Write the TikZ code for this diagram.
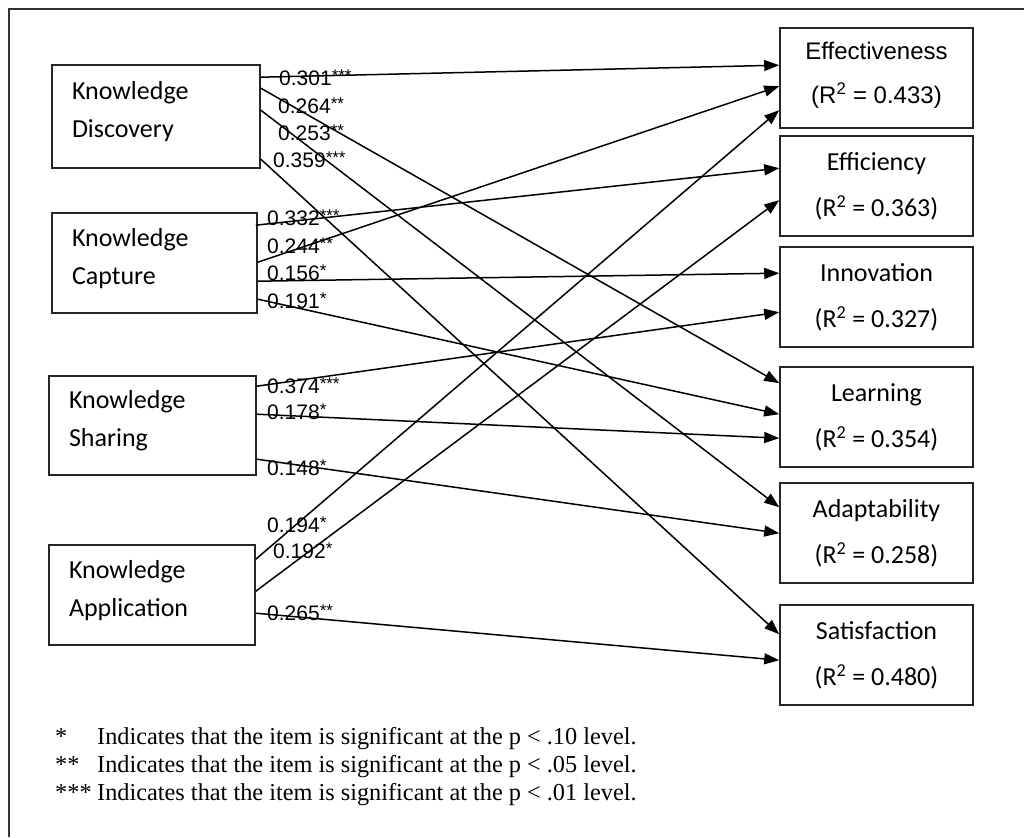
\documentclass[tikz,border=0pt]{standalone}
\usepackage{fontspec}
\setmainfont{Liberation Serif}
\newfontfamily\arialf{Liberation Sans}
\newfontfamily\calibf{Carlito}
\usetikzlibrary{arrows.meta,calc}
\newcommand\sigstars[1]{\smash{\raisebox{4pt}{\fontsize{17}{17}\selectfont #1}}}
\begin{document}
\begin{tikzpicture}[x=1pt,y=-1pt,
  box/.style={draw=black!85, line width=1.6pt, inner sep=0pt},
  lbox/.style={box, align=left, inner xsep=20pt, text depth=52pt, font=\calibf\fontsize{26}{38}\selectfont},
  rbox/.style={box, minimum width=193pt, minimum height=100pt, align=center, font=\calibf\fontsize{26}{46}\selectfont},
  conn/.style={line width=1.5pt, -{Triangle[length=15pt,width=11pt]}},
  coef/.style={anchor=west, inner sep=0pt, font=\arialf\fontsize{21}{21}\selectfont},
  note/.style={anchor=base west, inner sep=0pt, font=\fontsize{24.3}{24.3}\selectfont},
  frame/.style={line width=2pt, black!80}
]
\useasboundingbox (0,0) rectangle (1024,837);
\draw[frame] (9,837) -- (9,9) -- (1030,9);

% left boxes
\node[lbox, text width=168pt, minimum height=103pt] (kd) at (156,116.5) {Knowledge\\Discovery};
\node[lbox, text width=165pt, minimum height=100pt] (kc) at (154.5,263) {Knowledge\\Capture};
\node[lbox, text width=167pt, minimum height=99pt] (ks) at (152.5,425.5) {Knowledge\\Sharing};
\node[lbox, text width=166pt, minimum height=100pt] (ka) at (152,595) {Knowledge\\Application};

% right boxes
\node[rbox, text depth=11pt, font=\arialf\fontsize{24}{44}\selectfont] (eff) at (876.5,78) {Effectiveness\\(R\textsuperscript{2} = 0.433)};
\node[rbox] (efc) at (876.5,186) {Efficiency\\(R\textsuperscript{2} = 0.363)};
\node[rbox] (inn) at (876.5,297) {Innovation\\(R\textsuperscript{2} = 0.327)};
\node[rbox] (lrn) at (876.5,417) {Learning\\(R\textsuperscript{2} = 0.354)};
\node[rbox] (adp) at (876.5,533) {Adaptability\\(R\textsuperscript{2} = 0.258)};
\node[rbox] (sat) at (876.5,655) {Satisfaction\\(R\textsuperscript{2} = 0.480)};

% connectors
\draw[conn] ($(kd.north east)+(0,13)$) -- ($(eff.north west)+(0,38)$);
\draw[conn] ($(kd.north east)+(0,24)$) -- ($(lrn.north west)+(0,17)$);
\draw[conn] ($(kd.north east)+(0,46)$) -- ($(adp.north west)+(0,25)$);
\draw[conn] ($(kd.north east)+(0,95)$) -- ($(sat.north west)+(0,30)$);

\draw[conn] ($(kc.north east)+(-2,13)$) -- ($(efc.north west)+(0,33)$);
\draw[conn] ($(kc.north east)+(0,50)$) -- ($(eff.north west)+(0,59)$);
\draw[conn] ($(kc.north east)+(0,69)$) -- ($(inn.north west)+(0,27)$);
\draw[conn] ($(kc.north east)+(0,87)$) -- ($(lrn.north west)+(0,48)$);

\draw[conn] ($(ks.north east)+(0,11)$) -- ($(inn.north west)+(0,66)$);
\draw[conn] ($(ks.north east)+(0,39)$) -- ($(lrn.north west)+(0,72)$);
\draw[conn] ($(ks.north east)+(0,84)$) -- ($(adp.north west)+(0,51)$);

\draw[conn] ($(ka.north east)+(0,15)$) -- ($(eff.north west)+(0,83)$);
\draw[conn] ($(ka.north east)+(0,47)$) -- ($(efc.north west)+(0,65)$);
\draw[conn] ($(ka.north east)+(0,69)$) -- ($(sat.north west)+(0,56)$);

% coefficient labels
\node[coef] (l1) at (279,78) {0.301\sigstars{***}};
\node[coef] (l2) at (278,106) {0.264\sigstars{**}};
\node[coef] (l3) at (278,133) {0.253\sigstars{**}};
\node[coef] (l4) at (273,160) {0.359\sigstars{***}};
\node[coef] (l5) at (267,218) {0.332\sigstars{***}};
\node[coef] (l6) at (267,246) {0.244\sigstars{**}};
\node[coef] (l7) at (267,273) {0.156\sigstars{*}};
\node[coef] (l8) at (267,301) {0.191\sigstars{*}};
\node[coef] (l9) at (267,386) {0.374\sigstars{***}};
\node[coef] (l10) at (267,412) {0.178\sigstars{*}};
\node[coef] (l11) at (267,468) {0.148\sigstars{*}};
\node[coef] (l12) at (267,525) {0.194\sigstars{*}};
\node[coef] (l13) at (273,551) {0.192\sigstars{*}};
\node[coef] (l14) at (267,613) {0.265\sigstars{**}};

% footnotes
\node[note] (s1) at (55,744) {*};
\node[note] (n1) at (97,744) {Indicates that the item is significant at the p < .10 level.};
\node[note] (s2) at (55,772) {**};
\node[note] (n2) at (97,772) {Indicates that the item is significant at the p < .05 level.};
\node[note] (s3) at (55,800) {***};
\node[note] (n3) at (97,800) {Indicates that the item is significant at the p < .01 level.};
\end{tikzpicture}
\end{document}
